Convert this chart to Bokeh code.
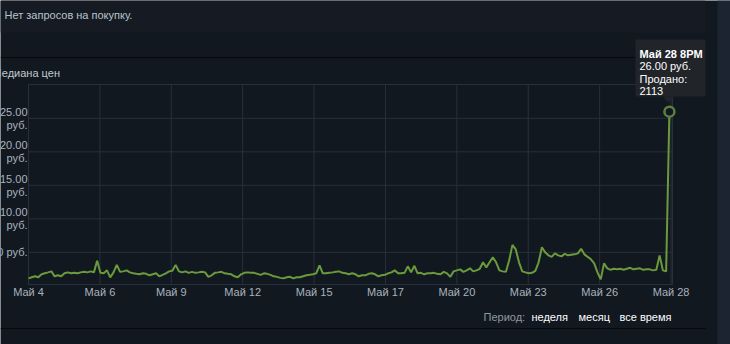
import numpy as np
from bokeh.plotting import figure
from bokeh.models import Label, BoxAnnotation, PolyAnnotation, Range1d, ColumnDataSource
from bokeh.embed import file_html
from bokeh.resources import INLINE

# ---------------- data ----------------
step_minutes = 180  # one reading every 3 hours, May 4 08:00 -> May 28 20:00
prices = [
    1.12, 1.27, 1.42, 1.27, 1.72, 1.87, 2.01, 2.16, 1.42, 1.57,
    1.42, 1.87, 2.01, 1.87, 1.94, 1.87, 2.01, 2.09, 2.01, 2.16,
    2.01, 3.73, 1.94, 1.87, 2.31, 1.27, 2.01, 3.13, 2.09, 2.16,
    2.31, 2.01, 1.87, 1.79, 1.72, 1.87, 1.79, 1.57, 1.72, 1.87,
    1.42, 1.64, 1.87, 2.16, 2.24, 3.13, 2.16, 2.01, 2.16, 1.94,
    2.09, 1.94, 2.01, 2.09, 2.01, 1.34, 1.57, 1.94, 2.01, 2.09,
    1.87, 1.79, 1.72, 1.42, 1.27, 1.72, 1.94, 2.01, 1.94, 1.94,
    1.79, 1.64, 1.87, 1.79, 1.64, 1.42, 1.34, 1.19, 1.12, 1.27,
    1.34, 1.12, 1.27, 1.27, 1.42, 1.57, 1.64, 1.72, 1.87, 3.06,
    1.87, 1.87, 1.94, 2.01, 2.09, 2.16, 1.94, 1.87, 1.72, 1.87,
    1.72, 1.42, 1.57, 1.57, 1.79, 1.87, 1.72, 1.42, 1.57, 1.64,
    1.87, 2.01, 2.31, 1.87, 1.87, 1.94, 2.91, 2.01, 2.99, 1.87,
    1.94, 1.72, 1.87, 1.87, 1.94, 1.79, 1.72, 2.09, 1.87, 1.34,
    2.16, 2.31, 2.46, 2.09, 2.31, 2.61, 2.16, 2.31, 2.54, 3.51,
    2.76, 3.51, 4.25, 3.51, 2.31, 2.16, 2.09, 3.81, 6.12, 5.45,
    3.51, 2.16, 2.01, 1.87, 1.94, 2.24, 3.51, 5.75, 5.00, 4.55,
    4.33, 4.85, 4.55, 4.40, 4.78, 4.55, 4.63, 4.70, 4.85, 5.52,
    4.70, 4.33, 3.96, 3.36, 2.01, 0.97, 3.36, 2.61, 2.39, 2.54,
    2.46, 2.54, 2.39, 2.54, 2.69, 2.46, 2.54, 2.61, 2.39, 2.46,
    2.46, 2.31, 2.39, 4.55, 2.31, 2.16, 26.00,
]
minutes = [i * step_minutes for i in range(len(prices))]

tick_labels = ["Май 4", "Май 6", "Май 9", "Май 12", "Май 15",
               "Май 17", "Май 20", "Май 23", "Май 26", "Май 28"]
tick_step = 3930
tick_positions = [k * tick_step for k in range(len(tick_labels))]

y_ticks = [5, 10, 15, 20, 25]
y_tick_labels = ["5.00 руб.", "10.00\nруб.", "15.00\nруб.", "20.00\nруб.", "25.00\nруб."]

tooltip_lines = ["Май 28 8PM", "26.00 руб.", "Продано:", "2113"]
header_text = "Нет запросов на покупку."
chart_title = "Медиана цен"
period_label = "Период:"
period_options = ["неделя", "месяц", "все время"]

# ---------------- layout / styling ----------------
W, H = 730, 344
FL, FR, FT, FB = 28, 672, 84, 284          # plot area in page pixels
X0, X1 = 0, 35450                          # data extent of plot area (minutes)
Y0, Y1 = 0.2, 30.05                        # data extent of plot area (rub.)
FONT = "Liberation Sans"
BG = "#121820"
BAND = "#161b23"
STRIP = "#1b2430"
GRID = "#27303b"
LINE = "#6a9a3c"
TXT = "#a9b3bd"
TIP = "#212429"

kx = (X1 - X0) / (FR - FL)
ky = (Y1 - Y0) / (FB - FT)
p = figure(width=W, height=H, output_backend="svg", toolbar_location=None,
           x_range=Range1d(X0 - FL * kx, X1 + (W - FR) * kx),
           y_range=Range1d(Y0 - (H - FB) * ky, Y1 + FT * ky),
           x_axis_location=None, y_axis_location=None,
           min_border=0)
p.background_fill_color = BG
p.border_fill_color = BG
p.outline_line_color = None
for g in p.grid:
    g.visible = False


def sx(px):
    return px


def sy(py):
    return H - py


def box(x0, y0, x1, y1, color, level="underlay"):
    p.add_layout(BoxAnnotation(left=sx(x0), right=sx(x1), top=sy(y0), bottom=sy(y1),
                               left_units="screen", right_units="screen",
                               top_units="screen", bottom_units="screen",
                               fill_color=color, fill_alpha=1, line_color=None, level=level))


def lab(text, px, py, size="11px", color=TXT, align="left", baseline="middle",
        style="normal", level="annotation"):
    p.add_layout(Label(x=sx(px), y=sy(py), x_units="screen", y_units="screen", text=text,
                       text_font=FONT, text_font_size=size, text_color=color,
                       text_align=align, text_baseline=baseline, text_font_style=style,
                       level=level))


# page decoration
box(0, 0, 705, 32, BAND)
box(0, 56.5, 705, 57.5, "#05080c")
box(0, 327.5, 705, 328.5, "#05080c")
box(717, 0, 730, 344, STRIP)

lab(header_text, 4, 14, color="#b8c3cc")
lab(chart_title, -8, 72, color="#c0c8d0")

# plot-area grid (data coordinates)
p.segment(x0=tick_positions, y0=[Y0] * len(tick_positions),
          x1=tick_positions, y1=[Y1] * len(tick_positions), line_color=GRID, line_width=1)
p.segment(x0=[X0] * len(y_ticks), y0=y_ticks, x1=[X1] * len(y_ticks), y1=y_ticks,
          line_color=GRID, line_width=1)
p.quad(left=[X0], right=[X1], bottom=[Y0], top=[Y1], fill_color=None, line_color=GRID, line_width=1)

# y tick labels
for v, t in zip(y_ticks, y_tick_labels):
    p.add_layout(Label(x=sx(FL - 1), y=v, x_units="screen", y_units="data", text=t,
                       text_font=FONT, text_font_size="11px", text_color=TXT,
                       text_align="right", text_baseline="middle", text_line_height=1.1))

# x tick labels
for tp, t in zip(tick_positions, tick_labels):
    p.add_layout(Label(x=tp, y=sy(291), x_units="data", y_units="screen", text=t,
                       text_font=FONT, text_font_size="11px", text_color=TXT,
                       text_align="center", text_baseline="middle"))

# price line
src = ColumnDataSource(dict(x=minutes, y=prices))
p.line("x", "y", source=src, line_color=LINE, line_width=2)
p.scatter([minutes[-1]], [prices[-1]], size=10, fill_color=BG, line_color="#5d7f40", line_width=2.5)

# tooltip
box(635, 39, 705, 96, TIP, level="overlay")
p.add_layout(PolyAnnotation(xs=[sx(662), sx(674), sx(668)], ys=[sy(96), sy(96), sy(102)],
                            xs_units="screen", ys_units="screen",
                            fill_color=TIP, fill_alpha=1, line_color=None, level="overlay"))
for i, t in enumerate(tooltip_lines):
    lab(t, 639, 53 + i * 12.5, color="#ffffff", baseline="alphabetic",
        style="bold" if i == 0 else "normal", level="overlay")

# period selector
lab(period_label, 483, 316, color="#8f98a0")
opt_x = [531, 578, 619]
for t, x0 in zip(period_options, opt_x):
    lab(t, x0, 316, color="#ffffff")

open("out.html", "w").write(file_html(p, INLINE))
